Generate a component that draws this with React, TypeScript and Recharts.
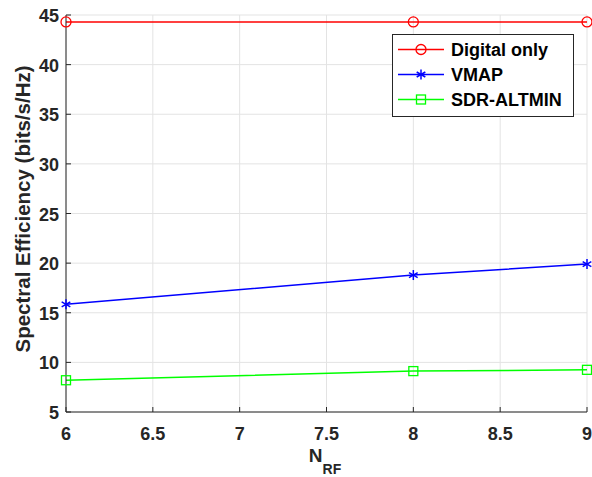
import { LineChart, Line, XAxis, YAxis, CartesianGrid } from 'recharts'

const nRF = [6, 8, 9]
const digitalOnly = [44.3, 44.3, 44.3]
const vmap = [15.85, 18.8, 19.9]
const sdrAltmin = [8.2, 9.12, 9.25]

const xTicks = [6, 6.5, 7, 7.5, 8, 8.5, 9]
const yTicks = [5, 10, 15, 20, 25, 30, 35, 40, 45]

const data = nRF.map((n, i) => ({
  n,
  digital: digitalOnly[i],
  vmap: vmap[i],
  sdr: sdrAltmin[i],
}))

const FONT = '"Liberation Sans", Arial, Helvetica, sans-serif'
const AXIS = '#262626'
const TICK_LEN = 5

const BottomTick = ({ x, y, payload }: any) => (
  <g>
    <line x1={x} y1={y} x2={x} y2={y - TICK_LEN} stroke={AXIS} strokeWidth={1} />
    <text x={x} y={y + 28} textAnchor="middle" fontFamily={FONT} fontWeight="bold" fontSize={18} fill={AXIS}>
      {payload.value}
    </text>
  </g>
)

const TopTick = ({ x, y }: any) => (
  <line x1={x} y1={y} x2={x} y2={y + TICK_LEN} stroke={AXIS} strokeWidth={1} />
)

const LeftTick = ({ x, y, payload }: any) => (
  <g>
    <line x1={x} y1={y} x2={x + TICK_LEN} y2={y} stroke={AXIS} strokeWidth={1} />
    <text x={x - 7} y={y + 7} textAnchor="end" fontFamily={FONT} fontWeight="bold" fontSize={18} fill={AXIS}>
      {payload.value}
    </text>
  </g>
)

const RightTick = ({ x, y }: any) => (
  <line x1={x} y1={y} x2={x - TICK_LEN} y2={y} stroke={AXIS} strokeWidth={1} />
)

const Circle = ({ cx, cy }: any) =>
  cx == null ? null : <circle cx={cx} cy={cy} r={5} fill="none" stroke="#ff0000" strokeWidth={1.3} />

const Square = ({ cx, cy }: any) =>
  cx == null ? null : <rect x={cx - 4.5} y={cy - 4.5} width={9} height={9} fill="none" stroke="#00ff00" strokeWidth={1.3} />

const Star = ({ cx, cy }: any) => {
  if (cx == null) return null
  const r = 5
  const d = r * 0.866
  return (
    <g stroke="#0000ff" strokeWidth={1.5}>
      <line x1={cx} y1={cy - r} x2={cx} y2={cy + r} />
      <line x1={cx - d} y1={cy - r / 2} x2={cx + d} y2={cy + r / 2} />
      <line x1={cx - d} y1={cy + r / 2} x2={cx + d} y2={cy - r / 2} />
    </g>
  )
}

const legendItems = [
  { label: 'Digital only', color: '#ff0000', Marker: Circle },
  { label: 'VMAP', color: '#0000ff', Marker: Star },
  { label: 'SDR-ALTMIN', color: '#00ff00', Marker: Square },
]

const LegendBox = ({ x, y }: { x: number; y: number }) => (
  <g transform={`translate(${x}, ${y})`}>
    <rect x={0.5} y={0.5} width={181} height={82} fill="#ffffff" stroke={AXIS} strokeWidth={1} />
    {legendItems.map((item, i) => {
      const cy = 15.5 + i * 25
      const M = item.Marker
      return (
        <g key={item.label}>
          <line x1={6} y1={cy} x2={52} y2={cy} stroke={item.color} strokeWidth={1.5} />
          <M cx={29} cy={cy} />
          <text x={59} y={cy + 6.5} fontFamily={FONT} fontWeight="bold" fontSize={18} fill="#000">
            {item.label}
          </text>
        </g>
      )
    })}
  </g>
)

export default function App() {
  return (
    <div style={{ position: 'absolute', left: 0, top: 0, width: 592, height: 477, background: '#fff' }}>
      <LineChart width={592} height={477} data={data} margin={{ top: 15, right: 5, bottom: 35, left: 26 }}>
        <CartesianGrid stroke="#e3e3e3" strokeWidth={1} />
        <XAxis
          dataKey="n"
          type="number"
          domain={[6, 9]}
          ticks={xTicks}
          allowDecimals
          height={30}
          tickSize={0}
          tickMargin={0}
          tick={<BottomTick />}
          axisLine={{ stroke: AXIS, strokeWidth: 1 }}
          tickLine={false}
          interval={0}
        />
        <XAxis
          xAxisId="top"
          orientation="top"
          dataKey="n"
          type="number"
          domain={[6, 9]}
          ticks={xTicks}
          height={0}
          tickSize={0}
          tickMargin={0}
          tick={<TopTick />}
          axisLine={{ stroke: AXIS, strokeWidth: 1 }}
          tickLine={false}
          interval={0}
        />
        <YAxis
          type="number"
          domain={[5, 45]}
          ticks={yTicks}
          width={40}
          tickSize={0}
          tickMargin={0}
          tick={<LeftTick />}
          axisLine={{ stroke: AXIS, strokeWidth: 1 }}
          tickLine={false}
          interval={0}
        />
        <YAxis
          yAxisId="right"
          orientation="right"
          type="number"
          domain={[5, 45]}
          ticks={yTicks}
          width={0}
          tickSize={0}
          tickMargin={0}
          tick={<RightTick />}
          axisLine={{ stroke: AXIS, strokeWidth: 1 }}
          tickLine={false}
          interval={0}
        />
        <Line dataKey="digital" stroke="#ff0000" strokeWidth={1.5} dot={<Circle />} activeDot={false} isAnimationActive={false} />
        <Line dataKey="vmap" stroke="#0000ff" strokeWidth={1.5} dot={<Star />} activeDot={false} isAnimationActive={false} />
        <Line dataKey="sdr" stroke="#00ff00" strokeWidth={1.5} dot={<Square />} activeDot={false} isAnimationActive={false} />
        <LegendBox x={392} y={34} />
        <text
          x={0}
          y={0}
          transform="translate(30, 209) rotate(-90)"
          textAnchor="middle"
          fontFamily={FONT}
          fontWeight="bold"
          fontSize={20.5}
          fill={AXIS}
        >
          Spectral Efficiency (bits/s/Hz)
        </text>
        <text x={325} y={462} textAnchor="middle" fontFamily={FONT} fontWeight="bold" fontSize={19} fill={AXIS}>
          N
          <tspan fontSize={14} dy={12}>RF</tspan>
        </text>
      </LineChart>
    </div>
  )
}
